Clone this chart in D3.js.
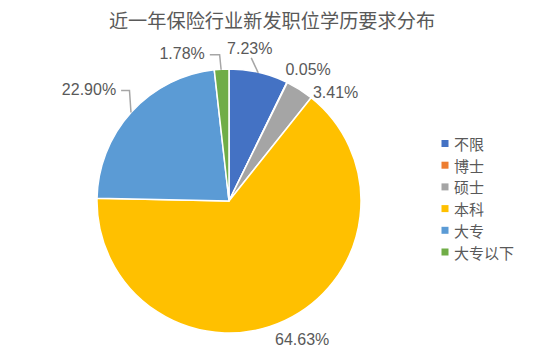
<!DOCTYPE html>
<html>
<head>
<meta charset="utf-8">
<script src="https://cdn.jsdelivr.net/npm/d3@7"></script>
<style>
  html, body { margin: 0; padding: 0; background: #fff; }
  svg { display: block; }
</style>
</head>
<body>
<svg id="chart" width="535" height="361"></svg>
<script>
// Education requirements of new insurance-industry job postings (share, %)
const categories = ["不限", "博士", "硕士", "本科", "大专", "大专以下"];
const shares = [7.23, 0.05, 3.41, 64.63, 22.90, 1.78];
const labelTexts = ["7.23%", "0.05%", "3.41%", "64.63%", "22.90%", "1.78%"];
const title = "近一年保险行业新发职位学历要求分布";

const colors = ["#4472C4", "#ED7D31", "#A5A5A5", "#FFC000", "#5B9BD5", "#70AD47"];

// label offsets (px) from each slice's outer mid-arc point, plus leader style
const labelLayout = [
  { dx: -9,   dy: -23.5, leader: "straight" },
  { dx: 21,   dy: -12.5, leader: "none" },
  { dx: 36,   dy: 3.5,   leader: "none" },
  { dx: 17,   dy: 19.5,  leader: "none" },
  { dx: -42.5, dy: -23,  leader: "elbow" },
  { dx: -39.5, dy: -16,  leader: "elbow" }
];

const svg = d3.select("#chart");
const cx = 229, cy = 201, radius = 132;
const textColor = "#595959";
const latinFont = "'Liberation Sans', Arial, sans-serif";
const cjkFont = "'Noto Sans CJK SC', sans-serif";

svg.append("text")
  .attr("x", 272).attr("y", 28)
  .attr("text-anchor", "middle")
  .attr("font-family", cjkFont)
  .attr("font-size", 19.2)
  .attr("fill", textColor)
  .text(title);

const pie = d3.pie().sort(null).value(d => d);
const arcs = pie(shares);
const arc = d3.arc().innerRadius(0).outerRadius(radius);

const g = svg.append("g").attr("transform", `translate(${cx},${cy})`);

g.selectAll("path.slice")
  .data(arcs)
  .join("path")
  .attr("class", "slice")
  .attr("d", arc)
  .attr("fill", (d, i) => colors[i])
  .attr("stroke", "#fff")
  .attr("stroke-width", 1.5)
  .attr("stroke-linejoin", "round");

// data labels and leader lines
const fontSize = 16;
arcs.forEach((d, i) => {
  const mid = (d.startAngle + d.endAngle) / 2;
  const ex = radius * Math.sin(mid), ey = -radius * Math.cos(mid);
  const lay = labelLayout[i];
  const lx = ex + lay.dx, ly = ey + lay.dy;

  const t = g.append("text")
    .attr("x", lx).attr("y", ly)
    .attr("text-anchor", "middle")
    .attr("dominant-baseline", "central")
    .attr("font-family", latinFont)
    .attr("font-size", fontSize)
    .attr("fill", textColor)
    .text(labelTexts[i]);

  const bb = t.node().getBBox();
  let pts = null;
  if (lay.leader === "straight") {
    pts = [[ex - 0.5, ey + 0.5], [lx + 1.5, ly + 9]];
  } else if (lay.leader === "elbow") {
    const right = bb.x + bb.width;
    pts = [[ex - 0.5, ey + 0.5], [ex - 2, ly + 1.5], [right + 5, ly + 1.5]];
  }
  if (pts) {
    g.insert("path", "text")
      .attr("d", d3.line()(pts))
      .attr("fill", "none")
      .attr("stroke", "#A6A6A6")
      .attr("stroke-width", 1.5);
  }
});

// legend
const legendX = 441.5, legendY0 = 143.5, legendStep = 21.7;
const legend = svg.append("g");
categories.forEach((c, i) => {
  const y = legendY0 + i * legendStep;
  legend.append("rect")
    .attr("x", legendX).attr("y", y - 3.5)
    .attr("width", 7).attr("height", 7)
    .attr("fill", colors[i]);
  legend.append("text")
    .attr("x", legendX + 12.5).attr("y", y)
    .attr("dominant-baseline", "central")
    .attr("font-family", cjkFont)
    .attr("font-size", 15)
    .attr("fill", textColor)
    .text(c);
});
</script>
</body>
</html>
